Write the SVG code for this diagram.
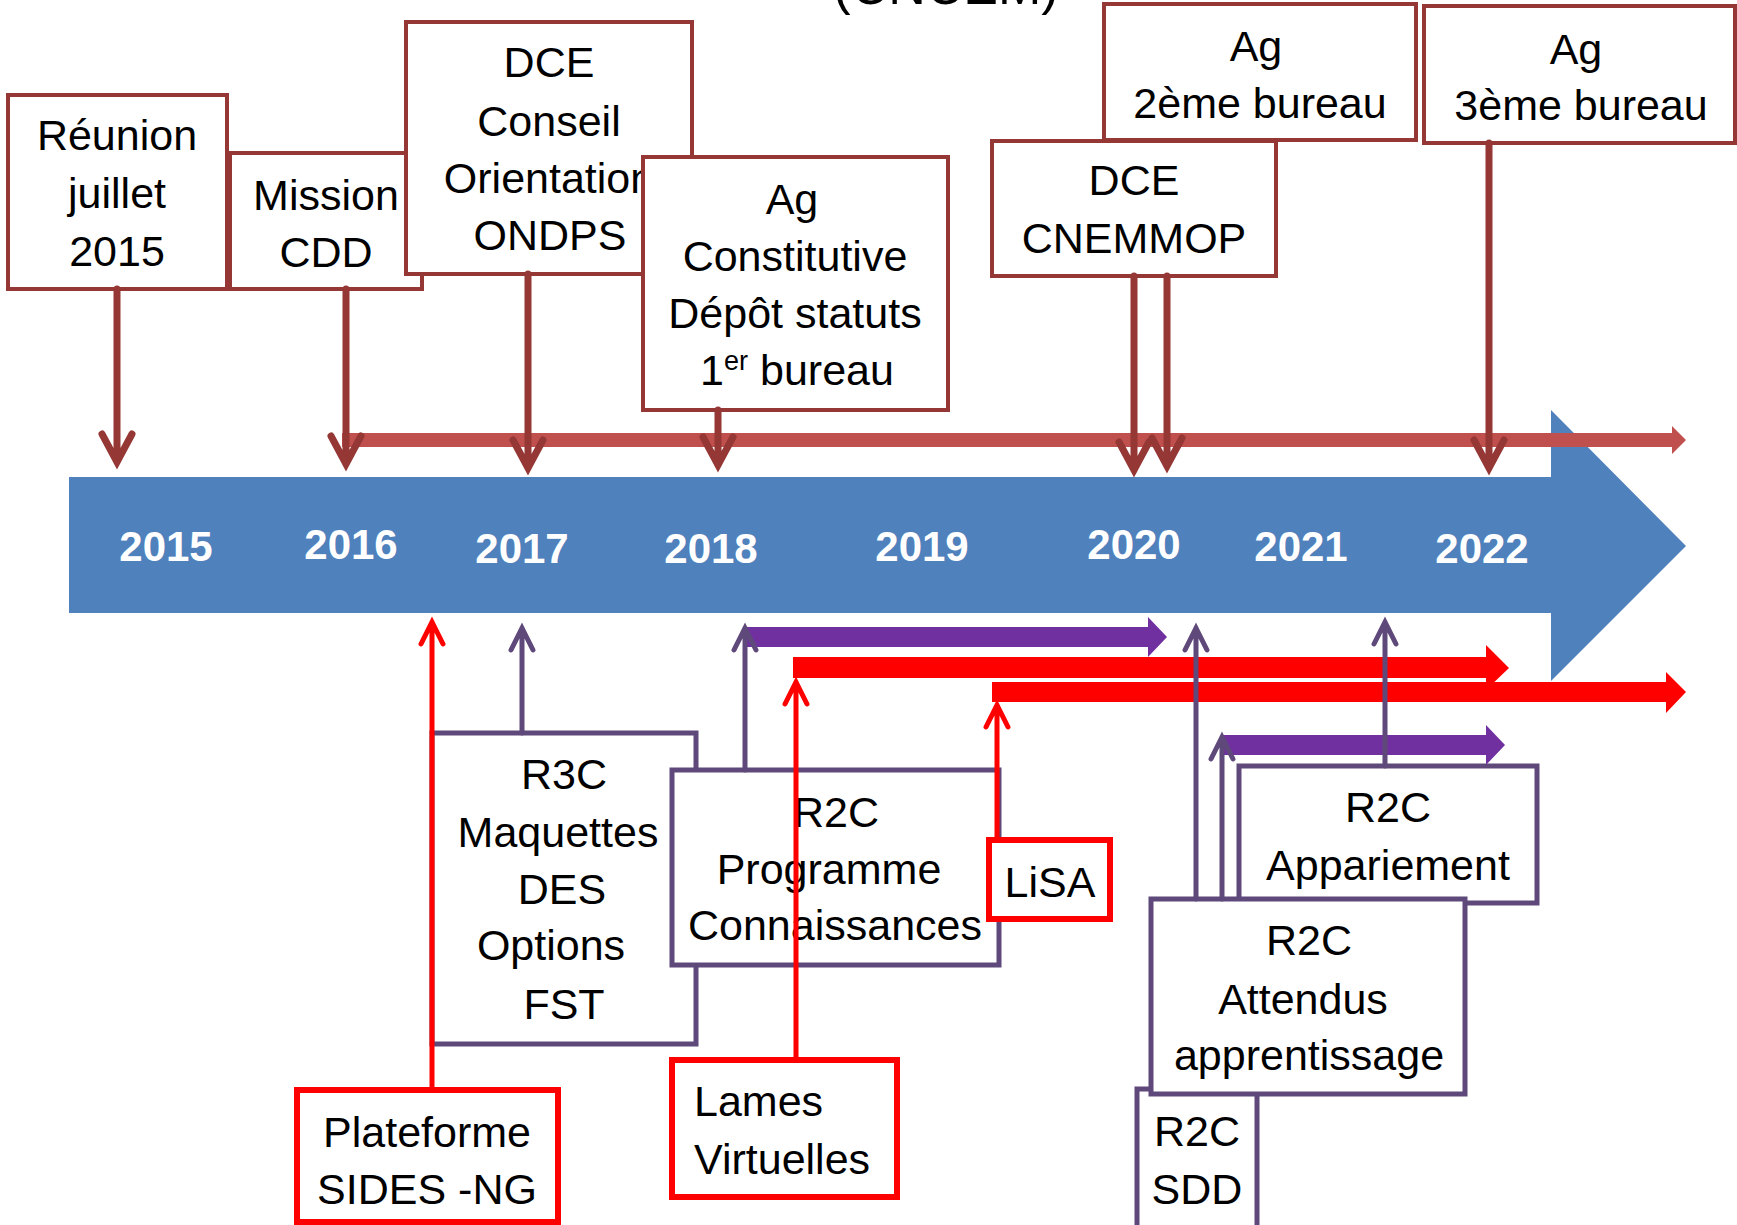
<svg xmlns="http://www.w3.org/2000/svg" width="1737" height="1225" viewBox="0 0 1737 1225">
<style>
.t{font-family:"Liberation Sans",Arial,sans-serif;font-size:43px;fill:#000;text-anchor:middle;transform:translateY(2px)}
.ti{font-family:"Liberation Sans",Arial,sans-serif;font-size:52px;fill:#000;text-anchor:middle}
.tl{text-anchor:start}
.yr{font-family:"Liberation Sans",Arial,sans-serif;font-size:42px;font-weight:bold;fill:#fff;text-anchor:middle}
.bt{fill:#fff;stroke:#953735;stroke-width:4}
.bp{fill:#fff;stroke:#5F497A;stroke-width:5}
.br{fill:#fff;stroke:#FF0000;stroke-width:6}
.at{fill:none;stroke:#953735;stroke-width:7;stroke-linecap:round}
.ap{fill:none;stroke:#5F497A;stroke-width:5;stroke-linecap:round}
.ar{fill:none;stroke:#FF0000;stroke-width:5;stroke-linecap:round}
</style>
<rect width="1737" height="1225" fill="#fff"/>
<g id="title"><text class="ti" x="946" y="4">(CNCEM)</text></g>
<g id="timeline">
<polygon points="69,477 1551,477 1551,410 1686,546 1551,681 1551,613 69,613" fill="#4F81BD"/>
<text class="yr" x="166" y="561">2015</text>
<text class="yr" x="351" y="559">2016</text>
<text class="yr" x="522" y="563">2017</text>
<text class="yr" x="711" y="563">2018</text>
<text class="yr" x="922" y="561">2019</text>
<text class="yr" x="1134" y="559">2020</text>
<text class="yr" x="1301" y="561">2021</text>
<text class="yr" x="1482" y="563">2022</text>
</g>
<g id="n-reunion"><rect class="bt" x="8" y="95" width="219" height="194"/>
<text class="t" x="117" y="148">Réunion</text><text class="t" x="117" y="206">juillet</text><text class="t" x="117" y="264">2015</text></g>
<g id="n-mission"><rect class="bt" x="230" y="153" width="192" height="136"/>
<text class="t" x="326" y="208">Mission</text><text class="t" x="326" y="265">CDD</text></g>
<g id="n-dce-conseil"><rect class="bt" x="406" y="22" width="286" height="252"/>
<text class="t" x="549" y="75">DCE</text><text class="t" x="549" y="134">Conseil</text><text class="t" x="549" y="191">Orientation</text><text class="t" x="550" y="248">ONDPS</text></g>
<g id="n-ag-constitutive"><rect class="bt" x="643" y="157" width="305" height="253"/>
<text class="t" x="792" y="212">Ag</text><text class="t" x="795" y="269">Constitutive</text><text class="t" x="795" y="326">Dépôt statuts</text>
<text class="t" x="797" y="383">1<tspan font-size="27" dy="-15">er</tspan><tspan dy="15"> bureau</tspan></text></g>
<g id="n-ag-2"><rect class="bt" x="1104" y="4" width="312" height="136"/>
<text class="t" x="1256" y="59">Ag</text><text class="t" x="1260" y="116">2ème bureau</text></g>
<g id="n-dce-cnemmop"><rect class="bt" x="992" y="141" width="284" height="135"/>
<text class="t" x="1134" y="193">DCE</text><text class="t" x="1134" y="251">CNEMMOP</text></g>
<g id="n-ag-3"><rect class="bt" x="1424" y="6" width="311" height="137"/>
<text class="t" x="1576" y="62">Ag</text><text class="t" x="1581" y="118">3ème bureau</text></g>
<g id="n-r3c"><rect class="bp" x="432" y="733" width="264" height="311"/>
<text class="t" x="564" y="787">R3C</text><text class="t" x="558" y="845">Maquettes</text><text class="t" x="562" y="902">DES</text><text class="t" x="551" y="958">Options</text><text class="t" x="564" y="1017">FST</text></g>
<g id="n-r2c-programme"><rect class="bp" x="672" y="770" width="327" height="195"/>
<text class="t" x="836" y="825">R2C</text><text class="t" x="829" y="882">Programme</text><text class="t" x="835" y="938">Connaissances</text></g>
<g id="n-plateforme"><rect class="br" x="297" y="1090" width="261" height="132"/>
<text class="t" x="427" y="1145">Plateforme</text><text class="t" x="427" y="1202">SIDES -NG</text></g>
<g id="n-lames"><rect class="br" x="672" y="1060" width="225" height="137"/>
<text class="t tl" x="694" y="1114">Lames</text><text class="t tl" x="694" y="1172">Virtuelles</text></g>
<g id="n-lisa"><rect class="br" x="989" y="840" width="121" height="79"/>
<text class="t" x="1050" y="895">LiSA</text></g>
<g id="n-r2c-appariement"><rect class="bp" x="1239" y="766" width="298" height="137"/>
<text class="t" x="1388" y="820">R2C</text><text class="t" x="1388" y="878">Appariement</text></g>
<g id="n-r2c-sdd"><rect class="bp" x="1137" y="1089" width="120" height="145"/>
<text class="t" x="1197" y="1144">R2C</text><text class="t" x="1197" y="1202">SDD</text></g>
<g id="n-r2c-attendus"><rect class="bp" x="1151" y="899" width="314" height="195"/>
<text class="t" x="1309" y="953">R2C</text><text class="t" x="1303" y="1012">Attendus</text><text class="t" x="1309" y="1068">apprentissage</text></g>
<g id="connectors">
<path d="M342,433 H1672 V426 L1686,440 L1672,454 V447 H342 Z" fill="#C0504D"/>
<path d="M747,627 H1148 V617 L1167,637 L1148,657 V647 H747 Z" fill="#7030A0"/>
<path d="M1223,735 H1486 V725 L1505,745 L1486,765 V755 H1223 Z" fill="#7030A0"/>
<path d="M793,657 H1486 V645 L1509,668 L1486,690 V678 H793 Z" fill="#FF0000"/>
<path d="M992,682 H1666 V672 L1686,692 L1666,713 V702 H992 Z" fill="#FF0000"/>
<path class="at" d="M117,289 V462 M102,434 L117,462 L132,434"/>
<path class="at" d="M346,289 V464 M331,436 L346,464 L361,436"/>
<path class="at" d="M528,274 V468 M513,440 L528,468 L543,440"/>
<path class="at" d="M718,410 V465 M703,437 L718,465 L733,437"/>
<path class="at" d="M1134,276 V470 M1119,442 L1134,470 L1149,442"/>
<path class="at" d="M1167,276 V466 M1152,438 L1167,466 L1182,438"/>
<path class="at" d="M1489,143 V468 M1474,440 L1489,468 L1504,440"/>
<path class="ar" d="M432,1090 V622 M421,644 L432,622 L443,644"/>
<path class="ap" d="M522,733 V628 M511,650 L522,628 L533,650"/>
<path class="ap" d="M745,770 V628 M734,650 L745,628 L756,650"/>
<path class="ar" d="M796,1060 V682 M785,704 L796,682 L807,704"/>
<path class="ar" d="M997,840 V705 M986,727 L997,705 L1008,727"/>
<path class="ap" d="M1196,899 V628 M1185,650 L1196,628 L1207,650"/>
<path class="ap" d="M1222,899 V737 M1211,759 L1222,737 L1233,759"/>
<path class="ap" d="M1385,766 V622 M1374,644 L1385,622 L1396,644"/>
</g>
</svg>
